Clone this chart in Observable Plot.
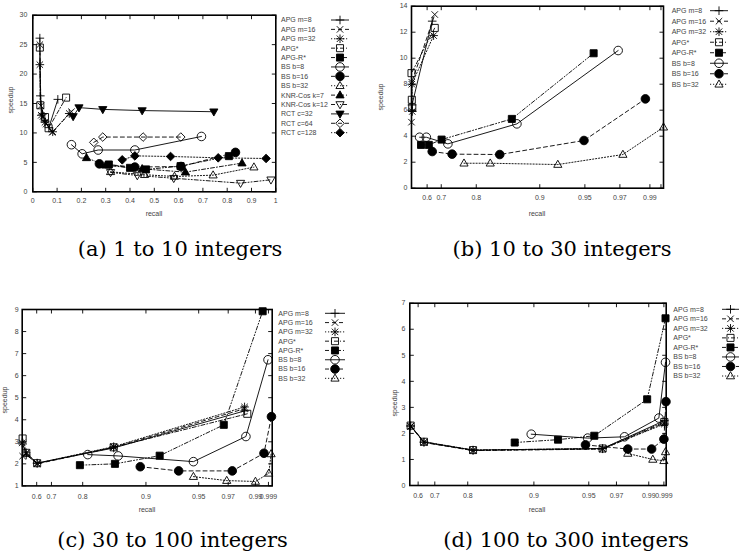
<!DOCTYPE html>
<html><head><meta charset="utf-8">
<script src="https://cdn.jsdelivr.net/npm/d3@7"></script>
<script src="https://cdn.jsdelivr.net/npm/@observablehq/plot@0.6"></script>
<style>
body{margin:0;background:#fff;}
#page{position:relative;width:742px;height:559px;overflow:hidden;background:#fff;}
.panel{position:absolute;}
#overlay{position:absolute;left:0;top:0;pointer-events:none;}
</style></head><body><div id="page"></div>
<script>
// ---- series and tick values ----
const seriesNames = ["APG m=8","APG m=16","APG m=32","APG*","APG-R*","BS b=8","BS b=16","BS b=32",
  "KNR-Cos k=7","KNR-Cos k=12","RCT c=32","RCT c=64","RCT c=128"];

const recallTicksA = [0,1,2,3,4,5,6,7,8,9,10].map(i => i / 10);
const speedupTicksA = [0,5,10,15,20,25,30];
const recallTicks = [0.6,0.7,0.8,0.9,0.95,0.97,0.99,0.999];
const recallTicksB = [0.6,0.7,0.8,0.9,0.95,0.97,0.99];
const speedupTicksB = [0,2,4,6,8,10,12,14];
const speedupTicksC = [1,2,3,4,5,6,7,8,9];
const speedupTicksD = [0,1,2,3,4,5,6,7];

// (a) 1 to 10 integers: [recall, speedup]
const dataA = [
  {series:"APG m=8",  points:[[0.029,26.1],[0.031,16.3],[0.040,13.2],[0.050,12.0],[0.066,10.9],[0.103,15.7]]},
  {series:"APG m=16", points:[[0.029,25.0],[0.033,14.6],[0.042,12.8],[0.055,11.5],[0.080,10.1],[0.159,13.6]]},
  {series:"APG m=32", points:[[0.029,21.6],[0.035,13.0],[0.050,11.8],[0.082,10.2],[0.150,13.3]]},
  {series:"APG*",     points:[[0.029,24.5],[0.031,14.7],[0.050,12.7],[0.065,10.8],[0.137,16.0]]},
  {series:"RCT c=32", points:[[0.166,12.8],[0.190,14.3],[0.288,14.0],[0.450,13.8],[0.745,13.6]]},
  {series:"RCT c=64", points:[[0.251,8.4],[0.288,9.3],[0.454,9.3],[0.609,9.3]]},
  {series:"BS b=8",   points:[[0.159,8.0],[0.203,6.45],[0.269,7.1],[0.420,7.1],[0.694,9.4]]},
  {series:"BS b=16",  points:[[0.274,4.75],[0.420,4.2],[0.610,4.3],[0.834,6.7]]},
  {series:"APG-R*",   points:[[0.313,4.64],[0.400,4.07],[0.466,3.8],[0.608,4.36],[0.807,6.06]]},
  {series:"BS b=32",  points:[[0.320,3.4],[0.460,2.9],[0.583,2.6],[0.742,2.83],[0.910,4.19]]},
  {series:"KNR-Cos k=7",  points:[[0.221,5.77],[0.300,4.5],[0.450,3.9],[0.628,3.34],[0.861,4.87]]},
  {series:"KNR-Cos k=12", points:[[0.320,3.3],[0.430,2.77],[0.580,2.3],[0.855,1.47],[0.980,2.04]]},
  {series:"RCT c=128",    points:[[0.368,5.43],[0.420,6.1],[0.567,6.0],[0.763,5.77],[0.960,5.66]]}
];

// (b) 10 to 30 integers
const dataB = [
  {series:"APG m=8",  points:[[0.501,6.0],[0.503,6.4],[0.636,12.85]]},
  {series:"APG m=16", points:[[0.500,5.08],[0.502,8.15],[0.654,13.36]]},
  {series:"APG m=32", points:[[0.505,5.9],[0.502,8.0],[0.646,11.74]]},
  {series:"APG*",     points:[[0.505,6.2],[0.502,6.8],[0.500,8.85],[0.654,12.33]]},
  {series:"APG-R*",   points:[[0.561,3.33],[0.612,3.33],[0.701,3.74],[0.856,5.33],[0.955,10.38]]},
  {series:"BS b=8",   points:[[0.552,3.92],[0.595,3.92],[0.719,3.41],[0.864,4.95],[0.969,10.59]]},
  {series:"BS b=16",  points:[[0.636,2.82],[0.731,2.62],[0.837,2.59],[0.949,3.67],[0.987,6.87]]},
  {series:"BS b=32",  points:[[0.765,1.92],[0.822,1.92],[0.920,1.82],[0.972,2.59],[1.000,4.69]]}
];

// (c) 30 to 100 integers
const dataC = [
  {series:"APG m=8",  points:[[0.503,2.9],[0.528,2.4],[0.603,2.03],[0.849,2.72],[0.982,4.4]]},
  {series:"APG m=16", points:[[0.503,2.35],[0.528,2.45],[0.603,2.0],[0.849,2.75],[0.982,4.5]]},
  {series:"APG m=32", points:[[0.500,2.95],[0.528,2.5],[0.603,2.03],[0.849,2.78],[0.982,4.58]]},
  {series:"APG*",     points:[[0.503,3.15],[0.528,2.5],[0.603,2.03],[0.849,2.75],[0.984,4.27]]},
  {series:"APG-R*",   points:[[0.791,1.94],[0.851,2.0],[0.913,2.37],[0.967,3.77],[0.995,8.92]]},
  {series:"BS b=8",   points:[[0.808,2.42],[0.856,2.36],[0.945,2.1],[0.983,3.24],[0.9987,6.72]]},
  {series:"BS b=16",  points:[[0.891,1.87],[0.931,1.68],[0.973,1.68],[0.9959,2.48],[0.9998,4.14]]},
  {series:"BS b=32",  points:[[0.945,1.42],[0.969,1.24],[0.990,1.2],[0.9991,1.57],[0.9997,2.45]]}
];

// (d) 100 to 300 integers
const dataD = [
  {series:"APG m=8",  points:[[0.555,2.29],[0.635,1.67],[0.808,1.36],[0.960,1.42],[0.9992,2.49]]},
  {series:"APG m=16", points:[[0.555,2.27],[0.635,1.65],[0.808,1.34],[0.960,1.40],[0.9992,2.40]]},
  {series:"APG m=32", points:[[0.555,2.28],[0.635,1.66],[0.808,1.35],[0.960,1.41],[0.9992,2.36]]},
  {series:"APG*",     points:[[0.555,2.30],[0.635,1.68],[0.808,1.36],[0.960,1.42],[0.9992,2.44]]},
  {series:"APG-R*",   points:[[0.871,1.65],[0.922,1.76],[0.954,1.91],[0.989,3.31],[0.9997,6.42]]},
  {series:"BS b=8",   points:[[0.896,1.97],[0.949,1.82],[0.975,1.87],[0.996,2.59],[0.9997,4.73]]},
  {series:"BS b=16",  points:[[0.947,1.56],[0.977,1.40],[0.9917,1.40],[0.999,1.78],[0.9999,3.22]]},
  {series:"BS b=32",  points:[[0.977,1.23],[0.9924,1.0],[0.999,0.95],[0.9997,1.29]]}
];

// ---- marker shapes (gnuplot-like point types) ----
const sym = f => ({draw(ctx, size) { f(ctx, Math.sqrt(size / Math.PI)); }});
const plusPath = (c, r) => { c.moveTo(-r, 0); c.lineTo(r, 0); c.moveTo(0, -r); c.lineTo(0, r); };
const timesPath = (c, r) => { const k = r * 0.75; c.moveTo(-k, -k); c.lineTo(k, k); c.moveTo(-k, k); c.lineTo(k, -k); };
const SYM = {
  plus: sym(plusPath),
  times: sym(timesPath),
  star: sym((c, r) => { plusPath(c, r); timesPath(c, r); }),
  square: sym((c, r) => { const k = r * 0.82; c.moveTo(-k, -k); c.lineTo(k, -k); c.lineTo(k, k); c.lineTo(-k, k); c.closePath(); }),
  circle: sym((c, r) => { c.moveTo(r, 0); c.arc(0, 0, r, 0, 2 * Math.PI); c.closePath(); }),
  triUp: sym((c, r) => { c.moveTo(0, -r); c.lineTo(r * 0.95, r * 0.65); c.lineTo(-r * 0.95, r * 0.65); c.closePath(); }),
  triDown: sym((c, r) => { c.moveTo(0, r); c.lineTo(r * 0.95, -r * 0.65); c.lineTo(-r * 0.95, -r * 0.65); c.closePath(); }),
  diamond: sym((c, r) => { c.moveTo(0, -r); c.lineTo(r, 0); c.lineTo(0, r); c.lineTo(-r, 0); c.closePath(); })
};
const TICK = 4;
const tickUp = {draw(c) { c.moveTo(0, 0); c.lineTo(0, -TICK); }};
const tickDown = {draw(c) { c.moveTo(0, 0); c.lineTo(0, TICK); }};
const tickRight = {draw(c) { c.moveTo(0, 0); c.lineTo(TICK, 0); }};
const tickLeft = {draw(c) { c.moveTo(0, 0); c.lineTo(-TICK, 0); }};

// line and point styles by series (gnuplot monochrome cycle)
const DASHES = [null, "4,3", "1.2,1.8", "4,2,1,2", "4,2,1,2,1,2"];
const SHAPES = ["plus","times","star","square","square","circle","circle","triUp","triUp","triDown","triDown","diamond","diamond"];
const FILLED = [false,false,false,false,true,false,true,false,true,false,true,false,true];
const style = {};
seriesNames.forEach((n, i) => { style[n] = {dash: DASHES[i % 5], symbol: SYM[SHAPES[i]], fill: FILLED[i] ? "black" : "none"}; });

const MARK_R = 4.3;
const page = document.getElementById("page");

// piecewise recall axis (compressed toward high recall)
const recallKnots = [0.5, 0.6, 0.7, 0.8, 0.9, 0.95, 0.97, 0.99, 0.999, 1];
const recallKnotsD = [0.55, 0.6, 0.7, 0.8, 0.9, 0.95, 0.97, 0.99, 0.999, 1];
const knotFracB = [0, 0.062, 0.118, 0.257, 0.509, 0.688, 0.827, 0.946, 0.99, 1];
const knotFracC = [0, 0.058, 0.117, 0.242, 0.495, 0.706, 0.824, 0.933, 0.985, 1];
const knotFracD = [0, 0.0325, 0.0975, 0.226, 0.484, 0.698, 0.806, 0.932, 0.991, 1];

function drawPanel(cfg) {
  const {left, top, width, height, m, data, yDomain, yTicks, xTicks, xTickLabels, xPad, yPad} = cfg;
  const innerW = width - m.l - m.r;
  let xOpt;
  if (cfg.knots) {
    xOpt = {type: "linear", domain: cfg.knots, range: cfg.fracs.map(f => m.l + f * innerW)};
  } else {
    xOpt = {type: "linear", domain: [0, 1]};
  }
  const marks = [];
  for (const s of data) {
    const st = style[s.series];
    const lineOpts = {x: d => d[0], y: d => d[1], stroke: "black", strokeWidth: 0.9};
    if (st.dash) lineOpts.strokeDasharray = st.dash;
    marks.push(Plot.line(s.points, lineOpts));
    marks.push(Plot.dot(s.points, {x: d => d[0], y: d => d[1], symbol: st.symbol, r: MARK_R,
      stroke: "black", strokeWidth: 0.9, fill: st.fill}));
  }
  // inward tick marks on all four sides
  marks.push(Plot.dot(xTicks, {x: d => d, frameAnchor: "bottom", symbol: tickUp, r: 1, stroke: "black", strokeWidth: 0.9}));
  marks.push(Plot.dot(xTicks, {x: d => d, frameAnchor: "top", symbol: tickDown, r: 1, stroke: "black", strokeWidth: 0.9}));
  marks.push(Plot.dot(yTicks, {y: d => d, frameAnchor: "left", symbol: tickRight, r: 1, stroke: "black", strokeWidth: 0.9}));
  marks.push(Plot.dot(yTicks, {y: d => d, frameAnchor: "right", symbol: tickLeft, r: 1, stroke: "black", strokeWidth: 0.9}));
  marks.push(Plot.frame({stroke: "black", strokeWidth: 1.6}));

  const chart = Plot.plot({
    width, height,
    marginLeft: m.l, marginRight: m.r, marginTop: m.t, marginBottom: m.b,
    x: {...xOpt, ticks: xTickLabels, tickSize: 0, tickPadding: xPad, label: null, tickFormat: d => String(d)},
    y: {domain: yDomain, ticks: yTicks, tickSize: 0, tickPadding: yPad, label: null, tickFormat: d => String(d)},
    style: {fontFamily: "'Liberation Sans', Arial, sans-serif", fontSize: "7px", color: "#444", background: "transparent", overflow: "visible"},
    marks
  });
  const wrap = document.createElement("div");
  wrap.className = "panel";
  wrap.style.left = left + "px";
  wrap.style.top = top + "px";
  wrap.appendChild(chart);
  page.appendChild(wrap);
}

drawPanel({left: 0, top: 0, width: 280, height: 215, m: {l: 32.3, r: 4.7, t: 14.7, b: 23.7},
  data: dataA, yDomain: [0, 30], yTicks: speedupTicksA, xTicks: recallTicksA, xTickLabels: recallTicksA, xPad: 6.5, yPad: 5.5});
drawPanel({left: 370, top: 0, width: 300, height: 215, m: {l: 41, r: 7, t: 5.7, b: 27.3},
  knots: recallKnots, fracs: knotFracB,
  data: dataB, yDomain: [0, 14], yTicks: speedupTicksB, xTicks: recallTicks, xTickLabels: recallTicksB, xPad: 7, yPad: 4});
drawPanel({left: 0, top: 270, width: 280, height: 240, m: {l: 21.7, r: 8.3, t: 39, b: 24.6},
  knots: recallKnots, fracs: knotFracC,
  data: dataC, yDomain: [1, 9], yTicks: speedupTicksC, xTicks: recallTicks, xTickLabels: recallTicks, xPad: 8, yPad: 3.5});
drawPanel({left: 370, top: 270, width: 300, height: 240, m: {l: 39.3, r: 4.3, t: 32.7, b: 25},
  knots: recallKnotsD, fracs: knotFracD,
  data: dataD, yDomain: [0, 7], yTicks: speedupTicksD, xTicks: recallTicks, xTickLabels: recallTicks, xPad: 8, yPad: 4.3});

// ---- legends, axis titles and sub-captions ----
const overlay = d3.select(page).append("svg").attr("id", "overlay").attr("width", 742).attr("height", 559);
const sans = "'Liberation Sans', Arial, sans-serif";

function legend(names, tx, y0, dy, sx1, sx2) {
  names.forEach((n, i) => {
    const y = y0 + i * dy, st = style[n];
    overlay.append("text").attr("x", tx).attr("y", y).attr("dy", "0.35em")
      .attr("font-family", sans).attr("font-size", 7).attr("fill", "#444").text(n);
    const ln = overlay.append("line").attr("x1", sx1).attr("x2", sx2).attr("y1", y).attr("y2", y)
      .attr("stroke", "black").attr("stroke-width", 0.9);
    if (st.dash) ln.attr("stroke-dasharray", st.dash);
    overlay.append("path").attr("transform", `translate(${(sx1 + sx2) / 2},${y})`)
      .attr("d", d3.symbol(st.symbol, MARK_R * MARK_R * Math.PI)())
      .attr("stroke", "black").attr("stroke-width", 0.9).attr("fill", st.fill);
  });
}
legend(seriesNames, 281, 20, 9.39, 331, 349);
legend(seriesNames.slice(0, 8), 671.7, 10.7, 10.51, 710, 728);
legend(seriesNames.slice(0, 8), 278.3, 313.3, 9.29, 325, 345);
legend(seriesNames.slice(0, 8), 673.3, 309.3, 9.53, 722, 739);

function axisTitle(txt, x, y, rotate) {
  const t = overlay.append("text").attr("font-family", sans).attr("font-size", 7).attr("fill", "#444")
    .attr("text-anchor", "middle").attr("dy", "0.35em").text(txt);
  if (rotate) t.attr("transform", `translate(${x},${y}) rotate(-90)`);
  else t.attr("x", x).attr("y", y);
}
axisTitle("recall", 154, 214); axisTitle("speedup", 11, 100, true);
axisTitle("recall", 537, 214); axisTitle("speedup", 381, 97, true);
axisTitle("recall", 147, 509.3); axisTitle("speedup", 5, 400, true);
axisTitle("recall", 537, 509.3); axisTitle("speedup", 395, 403, true);

function caption(txt, x, y) {
  overlay.append("text").attr("x", x).attr("y", y).attr("text-anchor", "middle")
    .attr("font-family", "'DejaVu Serif', serif").attr("font-size", 21)
    .attr("fill", "black").text(txt);
}
caption("(a) 1 to 10 integers", 180, 256);
caption("(b) 10 to 30 integers", 562, 256);
caption("(c) 30 to 100 integers", 172.5, 547);
caption("(d) 100 to 300 integers", 566, 547);
</script></body></html>
